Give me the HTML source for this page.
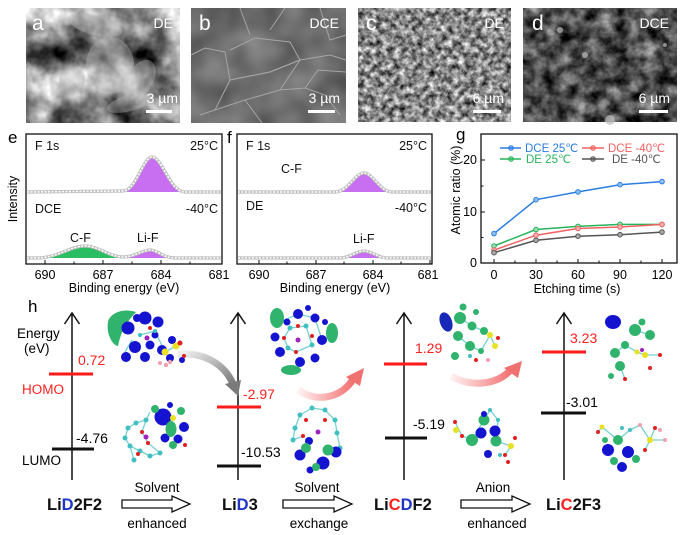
<!DOCTYPE html>
<html><head><meta charset="utf-8"><style>
html,body{margin:0;padding:0;background:#fff;}
svg{display:block;font-family:"Liberation Sans",Arial,sans-serif;}
</style></head><body>
<svg width="693" height="535" viewBox="0 0 693 535" xmlns="http://www.w3.org/2000/svg">
<defs>
<filter id="fa" x="0" y="0" width="1" height="1" color-interpolation-filters="sRGB">
<feTurbulence type="fractalNoise" baseFrequency="0.03" numOctaves="4" seed="5"/>
<feColorMatrix type="matrix" values="1.5 0 0 0 -0.2  1.5 0 0 0 -0.2  1.5 0 0 0 -0.2  0 0 0 0 1"/>
</filter>
<filter id="fb" x="0" y="0" width="1" height="1" color-interpolation-filters="sRGB">
<feTurbulence type="fractalNoise" baseFrequency="0.03" numOctaves="2" seed="8"/>
<feColorMatrix type="matrix" values="0.35 0 0 0 0.255  0.35 0 0 0 0.255  0.35 0 0 0 0.255  0 0 0 0 1"/>
</filter>
<filter id="fc" x="0" y="0" width="1" height="1" color-interpolation-filters="sRGB">
<feTurbulence type="fractalNoise" baseFrequency="0.17" numOctaves="4" seed="21"/>
<feColorMatrix type="matrix" values="1.35 0 0 0 -0.14  1.35 0 0 0 -0.14  1.35 0 0 0 -0.14  0 0 0 0 1"/>
</filter>
<filter id="fd" x="0" y="0" width="1" height="1" color-interpolation-filters="sRGB">
<feTurbulence type="fractalNoise" baseFrequency="0.07" numOctaves="4" seed="11"/>
<feColorMatrix type="matrix" values="1.0 0 0 0 -0.2  1.0 0 0 0 -0.2  1.0 0 0 0 -0.2  0 0 0 0 1"/>
</filter>
<linearGradient id="gg" x1="0" y1="0" x2="1" y2="1"><stop offset="0" stop-color="#f0f0f0"/><stop offset="1" stop-color="#7a7a7a"/></linearGradient>
<linearGradient id="gr" x1="0" y1="0" x2="1" y2="0"><stop offset="0" stop-color="#fff0f0"/><stop offset="1" stop-color="#f05555"/></linearGradient>
</defs>

<!-- SEM panels -->
<rect x="26" y="8" width="154" height="115" filter="url(#fa)"/>
<g fill="#b0b0b0" opacity="0.4">
<ellipse cx="110" cy="65" rx="24" ry="28"/>
<ellipse cx="95" cy="25" rx="28" ry="10" transform="rotate(15 95 25)"/>
<ellipse cx="72" cy="80" rx="13" ry="13"/>
<ellipse cx="140" cy="80" rx="13" ry="22" transform="rotate(30 140 80)"/>
<ellipse cx="130" cy="103" rx="24" ry="8" transform="rotate(-15 130 103)"/>
</g>
<rect x="191" y="8" width="155" height="115" filter="url(#fb)"/>
<g fill="none" stroke="#a5a5a5" stroke-width="1">
<path d="M191,55 L205,48 L225,52 L230,80 L215,110 L200,115"/>
<path d="M230,50 L255,38 L290,42 L300,60 L270,72 L230,80"/>
<path d="M230,80 L270,72 L300,60 L330,55 L346,60"/>
<path d="M215,110 L245,100 L280,90 L300,60"/>
<path d="M280,90 L305,88 L325,95 L340,115 M305,88 L318,70 L346,72"/>
<path d="M245,100 L262,123 M270,30 L285,8 M240,8 L250,35 M320,8 L330,40 L346,35"/>
</g>
<rect x="358" y="8" width="153" height="114" filter="url(#fc)"/>
<rect x="523" y="8" width="154" height="114" filter="url(#fd)"/>
<g fill="#bbb" opacity="0.7"><circle cx="560" cy="30" r="3"/><circle cx="585" cy="55" r="3"/><circle cx="610" cy="120" r="5"/><circle cx="665" cy="45" r="2"/></g>
<g fill="#fff" font-size="14">
<text x="32" y="30" font-size="21">a</text><text x="173" y="28" text-anchor="end">DE</text>
<text x="178" y="103" text-anchor="end">3 µm</text><rect x="146" y="110" width="26" height="3"/>
<text x="199" y="30" font-size="21">b</text><text x="339" y="28" text-anchor="end">DCE</text>
<text x="340" y="103" text-anchor="end">3 µm</text><rect x="308" y="110" width="27" height="3"/>
<text x="366" y="30" font-size="21">c</text><text x="504" y="28" text-anchor="end">DE</text>
<text x="504" y="103" text-anchor="end">6 µm</text><rect x="473" y="110" width="28" height="3"/>
<text x="532" y="30" font-size="21">d</text><text x="669" y="28" text-anchor="end">DCE</text>
<text x="670" y="103" text-anchor="end">6 µm</text><rect x="639" y="110" width="29" height="3"/>
</g>

<!-- panel e -->
<text x="8" y="143" font-size="17">e</text>
<g font-size="12.5" fill="#111">
<text x="35" y="150">F 1s</text><text x="218" y="150" text-anchor="end">25°C</text>
<text x="35" y="213">DCE</text><text x="218" y="213" text-anchor="end">-40°C</text>
<text x="70" y="242">C-F</text><text x="137" y="242">Li-F</text>
</g>
<text transform="translate(17,199) rotate(-90)" font-size="12.5" text-anchor="middle">Intensity</text>
<path d="M43,192 L60,191 L90,190 L123,191 L123,192 Z" fill="#2bb55e"/>
<path d="M123,192 C136,192 143,158 152,158 C162,158 170,192 185,192 Z" fill="#c86ef0"/>
<path d="M36,258 C58,258 70,247 85,247 C98,247 108,257 125,258 Z" fill="#2bbd62"/>
<path d="M122,258 C135,258 142,251 150,251 C158,251 163,258 175,258 Z" fill="#c86ef0"/>
<g fill="none">
<path d="M27,192 L123,191 C136,191 143,157 152,157 C162,157 170,192 185,192 L221,192" stroke="#bdbdbd" stroke-width="3.2"/>
<path d="M27,192 L123,191 C136,191 143,157 152,157 C162,157 170,192 185,192 L221,192" stroke="#fff" stroke-width="1.6" stroke-dasharray="2 1.5"/>
<path d="M27,258 L36,258 C58,258 70,246 85,246 C98,246 108,256 122,257 C135,257 142,250 150,250 C158,250 163,258 175,258 L221,258" stroke="#bdbdbd" stroke-width="3.2"/>
<path d="M27,258 L36,258 C58,258 70,246 85,246 C98,246 108,256 122,257 C135,257 142,250 150,250 C158,250 163,258 175,258 L221,258" stroke="#fff" stroke-width="1.6" stroke-dasharray="2 1.5"/>
</g>
<rect x="26" y="134" width="196" height="130" fill="none" stroke="#111" stroke-width="1.3"/>
<g stroke="#111" stroke-width="1"><path d="M45,264v-4M103,264v-4M161,264v-4M74,264v-2.5M132,264v-2.5M190,264v-2.5"/></g>
<g font-size="12.5" text-anchor="middle"><text x="45" y="279">690</text><text x="103" y="279">687</text><text x="161" y="279">684</text><text x="219" y="279">681</text></g>
<text x="124" y="292" font-size="12.5" text-anchor="middle">Binding energy (eV)</text>

<!-- panel f -->
<text x="227" y="143" font-size="17">f</text>
<g font-size="12.5" fill="#111">
<text x="246" y="150">F 1s</text><text x="427" y="150" text-anchor="end">25°C</text>
<text x="281" y="173">C-F</text>
<text x="246" y="210">DE</text><text x="427" y="212" text-anchor="end">-40°C</text>
<text x="353" y="243">Li-F</text>
</g>
<path d="M268,192 L280,190.5 L300,190.5 L308,192 Z" fill="#2bb55e"/>
<path d="M335,192 C348,192 355,174 364,174 C373,174 380,192 392,192 Z" fill="#c86ef0"/>
<path d="M340,258 C350,258 356,252 364,252 C372,252 378,258 388,258 Z" fill="#c86ef0"/>
<g fill="none">
<path d="M238,192 L335,192 C348,192 355,173 364,173 C373,173 380,192 392,192 L431,192" stroke="#bdbdbd" stroke-width="3.2"/>
<path d="M238,192 L335,192 C348,192 355,173 364,173 C373,173 380,192 392,192 L431,192" stroke="#fff" stroke-width="1.6" stroke-dasharray="2 1.5"/>
<path d="M238,258 L340,258 C350,258 356,251 364,251 C372,251 378,258 388,258 L431,258" stroke="#bdbdbd" stroke-width="3.2"/>
<path d="M238,258 L340,258 C350,258 356,251 364,251 C372,251 378,258 388,258 L431,258" stroke="#fff" stroke-width="1.6" stroke-dasharray="2 1.5"/>
</g>
<rect x="237" y="134" width="195" height="130" fill="none" stroke="#111" stroke-width="1.3"/>
<g stroke="#111" stroke-width="1"><path d="M259,264v-4M316,264v-4M373,264v-4M430,264v-4M287,264v-2.5M344,264v-2.5M401,264v-2.5"/></g>
<g font-size="12.5" text-anchor="middle"><text x="259" y="279">690</text><text x="316" y="279">687</text><text x="373" y="279">684</text><text x="428" y="279">681</text></g>
<text x="335" y="292" font-size="12.5" text-anchor="middle">Binding energy (eV)</text>

<!-- panel g -->
<text x="456" y="140" font-size="17">g</text>
<rect x="481" y="134" width="196" height="129" fill="none" stroke="#111" stroke-width="1.3"/>
<g stroke="#111" stroke-width="1"><path d="M494,263v-4M536,263v-4M578,263v-4M620,263v-4M662,263v-4M515,263v-2.5M557,263v-2.5M599,263v-2.5M641,263v-2.5M481,212h4M481,160h4M481,237.5h2.5M481,186h2.5"/></g>
<g font-size="12.5" text-anchor="end"><text x="477" y="267">0</text><text x="477" y="216">10</text><text x="477" y="164">20</text></g>
<g font-size="12.5" text-anchor="middle"><text x="494" y="279">0</text><text x="536" y="279">30</text><text x="578" y="279">60</text><text x="620" y="279">90</text><text x="662" y="279">120</text></g>
<text x="577" y="293" font-size="12.5" text-anchor="middle">Etching time (s)</text>
<text transform="translate(460,190) rotate(-90)" font-size="12.5" text-anchor="middle">Atomic ratio (%)</text>
<g fill="none" stroke-width="1.5">
<polyline points="494,233.6 536,199.7 578,191.9 620,184.7 662,181.6" stroke="#2a7de1"/>
<polyline points="494,246 536,229.5 578,226.4 620,224.4 662,224.4" stroke="#27b35a"/>
<polyline points="494,250.1 536,235.2 578,228.5 620,227 662,224.4" stroke="#f06262"/>
<polyline points="494,252.7 536,240.3 578,236.2 620,234.7 662,232.1" stroke="#555"/>
</g>
<g stroke-width="1">
<g fill="#8ec0f5" stroke="#2a7de1"><circle cx="494" cy="233.6" r="2.3"/><circle cx="536" cy="199.7" r="2.3"/><circle cx="578" cy="191.9" r="2.3"/><circle cx="620" cy="184.7" r="2.3"/><circle cx="662" cy="181.6" r="2.3"/><circle cx="511" cy="148" r="2.3"/></g>
<g fill="#9be0b3" stroke="#27b35a"><circle cx="494" cy="246" r="2.3"/><circle cx="536" cy="229.5" r="2.3"/><circle cx="578" cy="226.4" r="2.3"/><circle cx="620" cy="224.4" r="2.3"/><circle cx="662" cy="224.4" r="2.3"/><circle cx="511" cy="159" r="2.3"/></g>
<g fill="#f8b0b0" stroke="#f06262"><circle cx="494" cy="250.1" r="2.3"/><circle cx="536" cy="235.2" r="2.3"/><circle cx="578" cy="228.5" r="2.3"/><circle cx="620" cy="227" r="2.3"/><circle cx="662" cy="224.4" r="2.3"/><circle cx="593" cy="148" r="2.3"/></g>
<g fill="#aaa" stroke="#555"><circle cx="494" cy="252.7" r="2.3"/><circle cx="536" cy="240.3" r="2.3"/><circle cx="578" cy="236.2" r="2.3"/><circle cx="620" cy="234.7" r="2.3"/><circle cx="662" cy="232.1" r="2.3"/><circle cx="593" cy="159" r="2.3"/></g>
</g>
<g stroke-width="1.5"><path d="M500,148h21" stroke="#2a7de1"/><path d="M500,159h21" stroke="#27b35a"/><path d="M582,148h22" stroke="#f06262"/><path d="M582,159h22" stroke="#555"/></g>
<g font-size="11.5"><text x="525" y="152" fill="#2a7de1">DCE 25℃</text><text x="608" y="152" fill="#f06262">DCE -40℃</text>
<text x="526" y="163" fill="#27b35a">DE  25℃</text><text x="612" y="163" fill="#555">DE  -40℃</text></g>

<!-- panel h -->
<text x="28" y="312" font-size="17">h</text>
<g stroke="#111" stroke-width="1.5" fill="none">
<path d="M72,480V313M64.5,324L72,313L79.5,324"/>
<path d="M238,480V313M230.5,324L238,313L245.5,324"/>
<path d="M404,480V313M396.5,324L404,313L411.5,324"/>
<path d="M564,480V313M556.5,324L564,313L571.5,324"/>
</g>
<g stroke-width="3">
<path d="M49,374H93M217,407H261M384,364H427M542,352H586" stroke="#ff1a1a"/>
<path d="M52,449H94M217,466H261M385,438H427M541,413H586" stroke="#111"/>
</g>
<g font-size="13.5">
<text x="17" y="338">Energy</text><text x="24" y="353">(eV)</text>
<text x="22" y="394" fill="#ff2020">HOMO</text><text x="22" y="465">LUMO</text>
<text x="78" y="365" font-size="14" fill="#ff2020">0.72</text>
<text x="76" y="443" font-size="14">-4.76</text>
<text x="243" y="399" font-size="14" fill="#ff2020">-2.97</text>
<text x="241" y="457" font-size="14">-10.53</text>
<text x="415" y="353" font-size="14" fill="#ff2020">1.29</text>
<text x="413" y="429" font-size="14">-5.19</text>
<text x="570" y="343" font-size="14" fill="#ff2020">3.23</text>
<text x="566" y="407" font-size="14">-3.01</text>
</g>
<g font-size="16.5" font-weight="bold" fill="#111">
<text x="47" y="510">Li<tspan fill="#1f35c8">D</tspan>2F2</text>
<text x="222" y="510">Li<tspan fill="#1f35c8">D</tspan>3</text>
<text x="374" y="510">Li<tspan fill="#ff2020">C</tspan><tspan fill="#1f35c8">D</tspan>F2</text>
<text x="546" y="510">Li<tspan fill="#ff2020">C</tspan>2F3</text>
</g>
<g font-size="13.5" text-anchor="middle">
<text x="157" y="492">Solvent</text><text x="157" y="528">enhanced</text>
<text x="317" y="492">Solvent</text><text x="319" y="528">exchange</text>
<text x="493" y="492">Anion</text><text x="497" y="528">enhanced</text>
</g>
<g fill="#fff" stroke="#111" stroke-width="1.3">
<path d="M122,500H172V496L190,504L172,512V508H122Z"/>
<path d="M283,500H334V496L352,504L334,512V508H283Z"/>
<path d="M461,500H512V496L530,504L512,512V508H461Z"/>
</g>

<!-- curved arrows -->
<path d="M178,354 C205,352 225,365 233,384" fill="none" stroke="url(#gg)" stroke-width="7"/>
<path d="M225,384 L241,380 L238,396 Z" fill="#7a7a7a"/>
<path d="M298,390 C315,402 340,400 354,378" fill="none" stroke="url(#gr)" stroke-width="7" opacity="0.85"/>
<path d="M346,377 L364,368 L360,386 Z" fill="#f07070"/>
<path d="M451,376 C470,388 500,385 512,368" fill="none" stroke="url(#gr)" stroke-width="7" opacity="0.85"/>
<path d="M504,368 L522,361 L518,378 Z" fill="#f07070"/>

<!-- molecule sticks -->
<g stroke="#6cc" stroke-width="1.3" fill="none" opacity="0.9">
<path d="M128,428 L136,423 L146,420 L150,412 M128,428 L125,438 L130,446 L140,451 L150,456 L160,453 M130,446 L134,460 M146,420 L142,432 L148,443 L160,453"/>
<path d="M140,335 L155,331 L165,352 L176,346 M132,340 L125,352"/>
<path d="M290,328 L306,326 L312,345 L296,352 L288,348 L284,338 L290,328 M280,322 L298,314 L315,318 L322,340"/>
<path d="M300,415 L312,408 L325,410 L335,420 L337,433 L340,448 M300,415 L295,428 L293,440 L303,436"/>
<path d="M455,422 L462,436 L472,440 L484,420 L490,410 L498,420 L496,441 L511,446 L505,455"/>
<path d="M458,336 L470,346 L481,351 L490,335 L495,346 M460,318 L472,326 L484,331"/>
<path d="M598,432 L602,427 L618,440 L630,430 L640,425 L650,440 L665,440 M655,428 L650,440 L645,450"/>
<path d="M615,353 L625,345 L637,352 L645,355 L660,355 M620,366 L625,379 M635,330 L650,335"/>
</g>
<!-- molecules -->
<g>
<path d="M108,322 C110,312 125,308 136,312 C131,318 122,326 118,346 C112,345 106,333 108,322 Z" fill="#2fb36d"/>
<g fill="#1414d0"><circle cx="128" cy="328" r="6.5"/><circle cx="145" cy="318" r="6.5"/><circle cx="158" cy="322" r="5.5"/><circle cx="135" cy="347" r="6"/><circle cx="150" cy="345" r="4.5"/><circle cx="126" cy="357" r="5"/><circle cx="145" cy="357" r="5"/><circle cx="162" cy="350" r="5"/><circle cx="170" cy="358" r="4"/><circle cx="172" cy="340" r="4"/><circle cx="182" cy="360" r="3"/><circle cx="137" cy="318" r="4"/><circle cx="155" cy="335" r="3.5"/></g>
<g fill="#3cc0c0"><circle cx="140" cy="335" r="2"/><circle cx="155" cy="331" r="2"/></g>
<g fill="#e8e020"><circle cx="165" cy="352" r="3.5"/><circle cx="176" cy="346" r="3.5"/></g>
<g fill="#f0a0b0"><circle cx="170" cy="362" r="2.2"/><circle cx="166" cy="365" r="2.2"/><circle cx="160" cy="363" r="2"/></g>
<g fill="#e02020"><circle cx="180" cy="343" r="2.5"/><circle cx="184" cy="356" r="2"/><circle cx="150" cy="328" r="2"/></g>
<circle cx="147" cy="338" r="2.5" fill="#a020c0"/>
</g>
<g>
<g fill="#40c0c0"><circle cx="128" cy="428" r="2.5"/><circle cx="136" cy="423" r="2.5"/><circle cx="146" cy="420" r="2.5"/><circle cx="125" cy="438" r="2.5"/><circle cx="130" cy="446" r="2.5"/><circle cx="140" cy="451" r="2.5"/><circle cx="150" cy="456" r="2.5"/><circle cx="160" cy="453" r="2.5"/><circle cx="134" cy="460" r="2.5"/></g>
<g fill="#e02020"><circle cx="142" cy="432" r="2"/><circle cx="148" cy="443" r="2"/><circle cx="138" cy="454" r="2"/><circle cx="185" cy="445" r="2"/></g>
<g fill="#1414d0"><circle cx="163" cy="417" r="8.5"/><circle cx="184" cy="427" r="5"/><circle cx="165" cy="438" r="4.5"/><circle cx="178" cy="439" r="4.5"/><circle cx="170" cy="405" r="3"/></g>
<g fill="#2fb36d"><ellipse cx="171" cy="429" rx="5.5" ry="8"/><circle cx="155" cy="409" r="4"/><circle cx="181" cy="411" r="4"/><circle cx="173" cy="445" r="4"/></g>
<circle cx="173" cy="418" r="3" fill="#e8e020"/>
<circle cx="146" cy="437" r="2.5" fill="#a020c0"/>
</g>
<g>
<ellipse cx="277" cy="318" rx="7" ry="10" fill="#2fb36d"/>
<ellipse cx="332" cy="333" rx="6" ry="10" fill="#2fb36d"/>
<ellipse cx="291" cy="370" rx="10" ry="5" fill="#2fb36d"/>
<g fill="#1414d0"><circle cx="298" cy="314" r="5"/><circle cx="315" cy="318" r="4.5"/><circle cx="322" cy="340" r="5"/><circle cx="315" cy="358" r="4.5"/><circle cx="300" cy="362" r="5"/><circle cx="280" cy="352" r="5"/><circle cx="275" cy="337" r="4.5"/><circle cx="287" cy="322" r="3.5"/><circle cx="308" cy="308" r="3"/><circle cx="325" cy="322" r="3"/></g>
<g fill="#40c0c0"><circle cx="290" cy="328" r="2.5"/><circle cx="306" cy="326" r="2.5"/><circle cx="312" cy="345" r="2.5"/><circle cx="288" cy="348" r="2.5"/></g>
<g fill="#e02020"><circle cx="298" cy="326" r="2"/><circle cx="312" cy="336" r="2"/><circle cx="296" cy="352" r="2"/><circle cx="284" cy="338" r="2"/></g>
<circle cx="298" cy="340" r="2.5" fill="#a020c0"/>
</g>
<g>
<g fill="#40c0c0"><circle cx="300" cy="415" r="2.5"/><circle cx="312" cy="408" r="2.5"/><circle cx="325" cy="410" r="2.5"/><circle cx="335" cy="420" r="2.5"/><circle cx="337" cy="433" r="2.5"/><circle cx="295" cy="428" r="2.5"/><circle cx="293" cy="440" r="2.5"/><circle cx="340" cy="448" r="2.5"/></g>
<g fill="#e02020"><circle cx="306" cy="420" r="2"/><circle cx="325" cy="420" r="2"/><circle cx="303" cy="436" r="2"/></g>
<g fill="#1414d0"><circle cx="300" cy="455" r="5.5"/><circle cx="323" cy="463" r="6.5"/><circle cx="336" cy="452" r="5.5"/><circle cx="309" cy="441" r="4"/><circle cx="310" cy="470" r="3.5"/></g>
<g fill="#2fb36d"><circle cx="306" cy="448" r="5"/><circle cx="328" cy="450" r="5.5"/><circle cx="316" cy="467" r="4"/></g>
<circle cx="318" cy="432" r="2.5" fill="#a020c0"/>
</g>
<g>
<ellipse cx="446" cy="322" rx="6" ry="10" fill="#1828b8" transform="rotate(-20 446 322)"/>
<g fill="#2fb36d"><circle cx="460" cy="318" r="6"/><circle cx="472" cy="326" r="4.5"/><circle cx="484" cy="331" r="4"/><circle cx="458" cy="336" r="5"/><circle cx="470" cy="346" r="5"/><circle cx="455" cy="356" r="4"/><circle cx="481" cy="351" r="3"/><circle cx="463" cy="307" r="3.5"/><circle cx="476" cy="312" r="3"/></g>
<g fill="#e8e020"><circle cx="490" cy="335" r="3"/><circle cx="495" cy="346" r="3"/></g>
<g fill="#e02020"><circle cx="498" cy="338" r="2"/><circle cx="476" cy="360" r="2"/></g>
<circle cx="488" cy="360" r="2" fill="#f0a0b0"/>
<circle cx="470" cy="356" r="2" fill="#40c0c0"/>
</g>
<g>
<g fill="#e8e020"><circle cx="456" cy="430" r="3"/><circle cx="511" cy="446" r="3"/></g>
<g fill="#e02020"><circle cx="455" cy="422" r="2"/><circle cx="462" cy="436" r="2"/><circle cx="515" cy="438" r="2"/><circle cx="505" cy="455" r="2"/><circle cx="508" cy="462" r="2"/></g>
<g fill="#40c0c0"><circle cx="490" cy="410" r="2"/><circle cx="498" cy="420" r="2"/><circle cx="500" cy="455" r="2"/></g>
<g fill="#2fb36d"><circle cx="484" cy="420" r="5.5"/><circle cx="472" cy="440" r="6"/><circle cx="496" cy="441" r="5.5"/></g>
<g fill="#1414d0"><circle cx="481" cy="433" r="5.5"/><circle cx="495" cy="431" r="5.5"/><circle cx="488" cy="454" r="4"/><circle cx="484" cy="414" r="3"/></g>
</g>
<g>
<ellipse cx="613" cy="322" rx="8" ry="7" fill="#1414d0"/>
<g fill="#2fb36d"><circle cx="635" cy="330" r="6"/><circle cx="650" cy="335" r="5"/><circle cx="625" cy="345" r="4"/><circle cx="615" cy="353" r="5"/><circle cx="620" cy="366" r="5"/><circle cx="611" cy="376" r="3"/><circle cx="642" cy="322" r="3.5"/></g>
<g fill="#e8e020"><circle cx="645" cy="355" r="3"/><circle cx="637" cy="352" r="2.5"/></g>
<g fill="#e02020"><circle cx="660" cy="355" r="2"/><circle cx="625" cy="379" r="2"/><circle cx="650" cy="368" r="2"/></g>
<circle cx="642" cy="350" r="2" fill="#a020c0"/>
</g>
<g>
<g fill="#1414d0"><circle cx="608" cy="450" r="6"/><circle cx="628" cy="452" r="6"/><circle cx="622" cy="467" r="5"/></g>
<g fill="#2fb36d"><circle cx="618" cy="440" r="5"/><circle cx="614" cy="461" r="4"/><circle cx="636" cy="459" r="4"/><circle cx="605" cy="440" r="3"/></g>
<g fill="#e8e020"><circle cx="650" cy="440" r="3"/><circle cx="602" cy="427" r="2.5"/></g>
<g fill="#f0a0b0"><circle cx="640" cy="425" r="2"/><circle cx="665" cy="440" r="2"/><circle cx="660" cy="430" r="2"/></g>
<g fill="#e02020"><circle cx="598" cy="432" r="2"/><circle cx="655" cy="428" r="2"/><circle cx="645" cy="450" r="2"/></g>
<g fill="#40c0c0"><circle cx="630" cy="430" r="2"/><circle cx="622" cy="428" r="2"/></g>
</g>
</svg>
</body></html>
